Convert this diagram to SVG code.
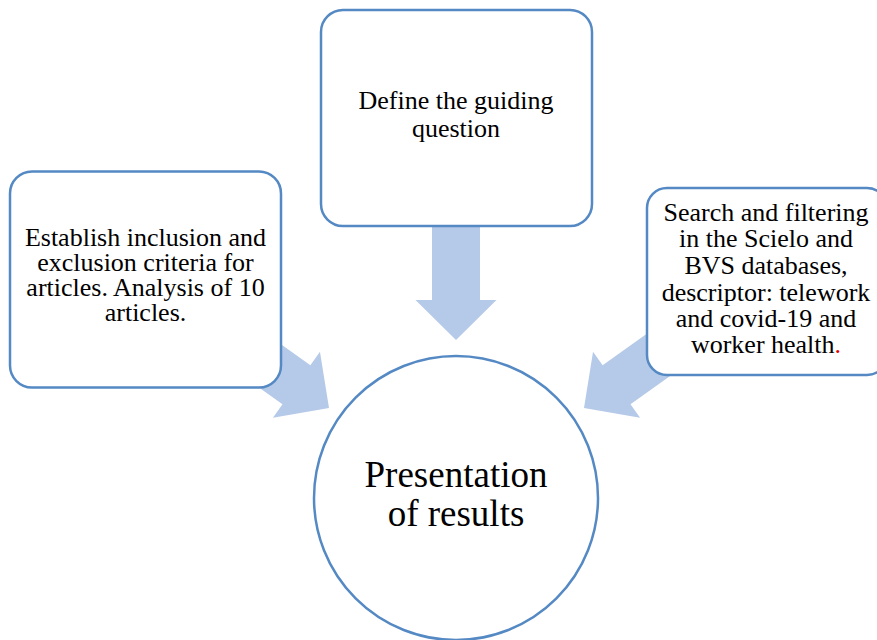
<svg xmlns="http://www.w3.org/2000/svg" width="877" height="640" viewBox="0 0 877 640">
<defs>
<style>
.box{fill:#ffffff;stroke:#5489C4;stroke-width:2.5}
</style>
<path id="arrowShape" d="M0,0 L-40,-40.5 L-40,-24 L-130,-24 L-130,24 L-40,24 L-40,40.5 Z" fill="#B5C9E8"/>
</defs>
<rect width="877" height="640" fill="#ffffff"/>
<g id="connectors">
<use href="#arrowShape" transform="translate(456,340) rotate(90)"/>
<use href="#arrowShape" transform="translate(329,408) rotate(35.5)"/>
<use href="#arrowShape" transform="translate(584,408) rotate(144.5)"/>
</g>
<g id="node-guiding">
<rect class="box" x="321" y="10" width="271" height="216" rx="22" ry="22"/>
<text x="456" y="109" font-family="Times New Roman, Liberation Serif, Tinos, serif" font-size="26" text-anchor="middle">Define the guiding</text>
<text x="456" y="137" font-family="Times New Roman, Liberation Serif, Tinos, serif" font-size="26" text-anchor="middle">question</text>
</g>
<g id="node-criteria">
<rect class="box" x="10" y="171.5" width="271" height="216" rx="22" ry="22"/>
<text x="145.5" y="246" font-family="Times New Roman, Liberation Serif, Tinos, serif" font-size="26" text-anchor="middle">Establish inclusion and</text>
<text x="145.5" y="271" font-family="Times New Roman, Liberation Serif, Tinos, serif" font-size="26" text-anchor="middle">exclusion criteria for</text>
<text x="145.5" y="296" font-family="Times New Roman, Liberation Serif, Tinos, serif" font-size="26" text-anchor="middle">articles. Analysis of 10</text>
<text x="145.5" y="321" font-family="Times New Roman, Liberation Serif, Tinos, serif" font-size="26" text-anchor="middle">articles.</text>
</g>
<g id="node-search">
<rect class="box" x="647" y="188" width="240" height="187" rx="20" ry="20"/>
<text x="766" y="221" font-family="Times New Roman, Liberation Serif, Tinos, serif" font-size="26" text-anchor="middle">Search and filtering</text>
<text x="766" y="247" font-family="Times New Roman, Liberation Serif, Tinos, serif" font-size="26" text-anchor="middle">in the Scielo and</text>
<text x="766" y="274" font-family="Times New Roman, Liberation Serif, Tinos, serif" font-size="26" text-anchor="middle">BVS databases,</text>
<text x="766" y="300.5" font-family="Times New Roman, Liberation Serif, Tinos, serif" font-size="26" text-anchor="middle">descriptor: telework</text>
<text x="766" y="327" font-family="Times New Roman, Liberation Serif, Tinos, serif" font-size="26" text-anchor="middle">and covid-19 and</text>
<text x="766" y="353" font-family="Times New Roman, Liberation Serif, Tinos, serif" font-size="26" text-anchor="middle">worker health<tspan fill="#E00000">.</tspan></text>
</g>
<g id="node-results">
<circle class="box" cx="456" cy="498" r="142"/>
<text x="456" y="487" font-family="Times New Roman, Liberation Serif, Tinos, serif" font-size="37" text-anchor="middle">Presentation</text>
<text x="456" y="526" font-family="Times New Roman, Liberation Serif, Tinos, serif" font-size="37" text-anchor="middle">of results</text>
</g>
</svg>
